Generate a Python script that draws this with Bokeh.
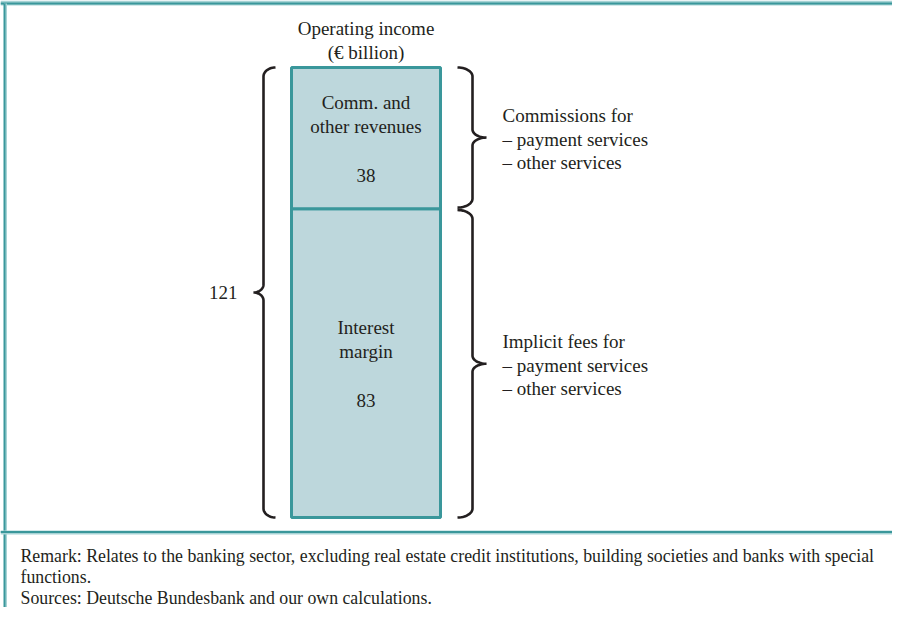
import numpy as np
from bokeh.plotting import figure
from bokeh.models import Range1d
from bokeh.core.properties import value
from bokeh.embed import file_html
from bokeh.resources import INLINE

# ---------------- data ----------------
segment_names = ["Interest margin", "Comm. and other revenues"]
segment_values = [83, 38]               # € billion, stacked bottom -> top
total_value = 121
segment_text = [["Interest", "margin"], ["Comm. and", "other revenues"]]
side_text = [["Implicit fees for", "– payment services", "– other services"],
             ["Commissions for", "– payment services", "– other services"]]
title_lines = ["Operating income", "(€ billion)"]
note_lines = ["Remark: Relates to the banking sector, excluding real estate credit institutions, building societies and banks with special",
              "functions.",
              "Sources: Deutsche Bundesbank and our own calculations."]

# ---------------- layout / style ----------------
W, H = 892, 607
BASE_PX = 517.0               # pixel row of value 0
PPU = 450.0 / total_value     # pixels per € billion

def vy(py):
    return (BASE_PX - py) / PPU

FONT = value("Liberation Serif")
TXT = "#231f20"
TEAL = "#3a979b"
LIGHT = "#a7d3d5"
FILL = "#bdd7dc"

p = figure(width=W, height=H, x_range=Range1d(0, W),
           y_range=Range1d(vy(H), vy(0)),
           x_axis_location=None, y_axis_location=None,
           output_backend="svg", toolbar_location=None, min_border=0)
p.grid.visible = False
p.outline_line_color = None
p.background_fill_color = "white"
p.border_fill_color = "white"

# frame lines
p.line([0, W], [vy(2.5), vy(2.5)], line_color=LIGHT, line_width=5)
p.line([0, W], [vy(3), vy(3)], line_color=TEAL, line_width=2)
p.line([5, 5], [vy(3), vy(H)], line_color=LIGHT, line_width=3)
p.line([4, 4], [vy(3), vy(H)], line_color=TEAL, line_width=2)
p.line([0, W], [vy(532), vy(532)], line_color=LIGHT, line_width=4)
p.line([0, W], [vy(531.5), vy(531.5)], line_color=TEAL, line_width=2)

# stacked bar
vals = np.array(segment_values, dtype=float)
tops = np.cumsum(vals)
bottoms = tops - vals
BAR_X, BAR_W = 365.5, 149
p.vbar(x=BAR_X, width=BAR_W, bottom=bottoms, top=tops,
       fill_color=FILL, line_color=TEAL, line_width=3)

# texts inside bar
for lines, b, t, v in zip(segment_text, bottoms, tops, vals):
    mid = (b + t) / 2
    ys = [mid + 36 / PPU, mid + 12 / PPU, mid - 37 / PPU]
    txts = lines + [f"{int(v)}"]
    p.text(x=[BAR_X] * 3, y=ys, text=txts, text_font=FONT, text_font_size="19px",
           text_color=TXT, text_align="center", text_baseline="middle")

# title
p.text(x=[BAR_X, BAR_X], y=[vy(28), vy(52)], text=title_lines, text_font=FONT,
       text_font_size="19px", text_color=TXT, text_align="center", text_baseline="middle")

# braces
def brace(y_lo, y_hi, xv, xend, xtip, r_end_px=9, r_tip_px=8):
    re = r_end_px / PPU
    rt = r_tip_px / PPU
    mid = (y_lo + y_hi) / 2
    t = np.linspace(0, np.pi / 2, 14)
    ax = xend - xv
    bx = xv - xtip
    xs, ys = [], []
    xs += list(xend - ax * np.sin(t)); ys += list(y_hi - re + re * np.cos(t))
    xs += list(xtip + bx * np.cos(t)); ys += list(mid + rt - rt * np.sin(t))
    xs += list(xtip + bx * np.sin(t)); ys += list(mid - rt + rt * np.cos(t))
    xs += list(xend - ax * np.cos(t)); ys += list(y_lo + re - re * np.sin(t))
    return xs, ys, mid

BR = "#231f20"
gap = 1.2 / PPU
# left brace: total
xs, ys, mid_total = brace(0, total_value, 263, 275, 253)
p.line(xs, ys, line_color=BR, line_width=2.6)
p.text(x=[237], y=[mid_total], text=[f"{total_value}"], text_font=FONT, text_font_size="19px",
       text_color=TXT, text_align="right", text_baseline="middle")

# right braces: each segment
for (b, t), lines in zip(zip(bottoms, tops), side_text):
    lo = b + (gap if b > 0 else 0)
    hi = t - (gap if t < total_value else 0)
    xs, ys, mid = brace(lo, hi, 472, 457, 486)
    p.line(xs, ys, line_color=BR, line_width=2.6)
    ly = [mid + (23.5 - 1.5) / PPU, mid - 1.5 / PPU, mid - (23.5 + 1.5) / PPU]
    p.text(x=[502] * 3, y=ly, text=lines, text_font=FONT, text_font_size="19px",
           text_color=TXT, text_align="left", text_baseline="middle")

# notes
p.text(x=[20] * 3, y=[vy(555), vy(576), vy(597)], text=note_lines, text_font=FONT,
       text_font_size="17.8px", text_color=TXT, text_align="left", text_baseline="middle")

open("out.html", "w").write(file_html(p, INLINE))
